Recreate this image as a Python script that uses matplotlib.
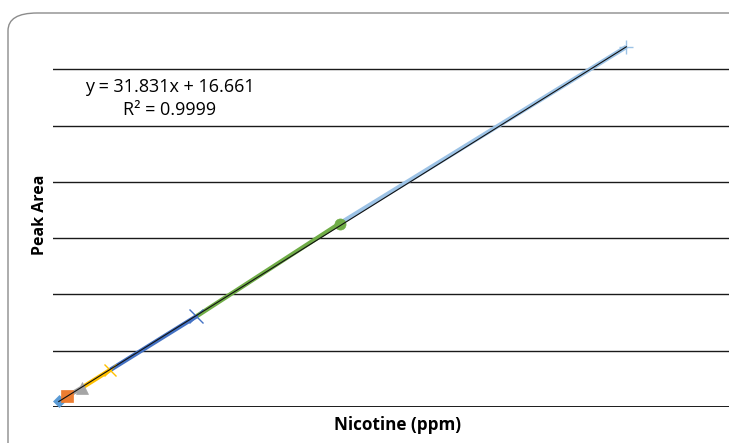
import numpy as np
import matplotlib.pyplot as plt
from matplotlib.patches import FancyBboxPatch

plt.rcParams["font.family"] = ["Open Sans", "DejaVu Sans"]

# calibration standards
nicotine = [1, 2.5, 5, 10, 25, 50, 100]
peak_area = [49, 96, 170, 330, 805, 1630, 3199]

markers = ["D", "s", "^", "x", "x", "o", "+"]
colors = ["#5B9BD5", "#ED7D31", "#A5A5A5", "#FFC000", "#4472C4", "#70AD47", "#9DC3E6"]
msizes = [6, 9, 9, 9, 10, 8, 10]

slope, intercept = 31.831, 16.661

fig = plt.figure(figsize=(7.29, 4.43), dpi=100)

# rounded chart border (partly cut off by the image edges)
border = FancyBboxPatch((8 / 729, -20 / 443), 760 / 729, 430 / 443 + 20 / 443,
                        boxstyle="round,pad=0,rounding_size=0.04",
                        transform=fig.transFigure, fill=False,
                        edgecolor="#8c8c8c", linewidth=1.0, clip_on=False)
fig.patches.append(border)

ax = fig.add_axes([53 / 729, 36 / 443, 688 / 729, 394 / 443])
ax.set_xlim(0, 120)
ax.set_ylim(0, 3500)

for yv in range(500, 3500, 500):
    ax.axhline(yv, color="#1a1a1a", linewidth=1.0, zorder=1)
ax.axhline(0, color="#1a1a1a", linewidth=1.4, zorder=1)

# segments coloured by the series they lead into
for i in range(1, len(nicotine)):
    ax.plot(nicotine[i - 1:i + 1], peak_area[i - 1:i + 1], color=colors[i],
            linewidth=3.2, solid_capstyle="butt", zorder=2)

for x, y, m, c, s in zip(nicotine, peak_area, markers, colors, msizes):
    ax.plot(x, y, marker=m, color=c, markersize=s, markeredgewidth=1.0 if m in "x+" else 0.5,
            linestyle="none", zorder=3)

xt = np.array([nicotine[0], nicotine[-1]])
ax.plot(xt, slope * xt + intercept, color="#111111", linewidth=0.8, zorder=4)

for s in ax.spines.values():
    s.set_visible(False)
ax.set_xticks([])
ax.set_yticks([])
ax.patch.set_alpha(0)

fig.text(170 / 729, 1 - 87 / 443, "y = 31.831x + 16.661", ha="center", va="center", fontsize=13)
fig.text(170 / 729, 1 - 110 / 443, "R² = 0.9999", ha="center", va="center", fontsize=13)

fig.text(40 / 729, 1 - 215 / 443, "Peak Area", rotation=90, ha="center", va="center",
         fontsize=11.5, fontweight="bold")
fig.text(397 / 729, 1 - 425 / 443, "Nicotine (ppm)", ha="center", va="center",
         fontsize=12.3, fontweight="bold")

fig.savefig("out.png", dpi=100)
plt.close()
